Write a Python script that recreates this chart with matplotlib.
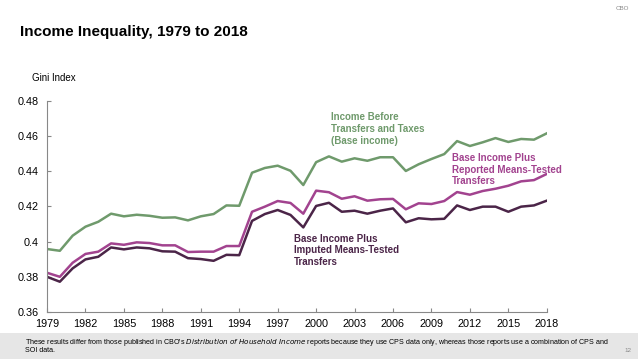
import matplotlib
matplotlib.use("Agg")
import matplotlib.pyplot as plt
import numpy as np

plt.rcParams["font.family"] = ["Liberation Sans", "DejaVu Sans"]

years = np.arange(1979, 2019)

# Gini index, income before transfers and taxes (base income)
base_income = [
    0.3958, 0.3948, 0.4034, 0.4085, 0.4113, 0.4159, 0.4144, 0.4153, 0.4147, 0.4136,
    0.4138, 0.4121, 0.4144, 0.4157, 0.4206, 0.4204, 0.4392, 0.4419, 0.4432, 0.4403,
    0.4322, 0.4452, 0.4485, 0.4455, 0.4474, 0.4460, 0.4480, 0.4480, 0.4402, 0.4440,
    0.4470, 0.4498, 0.4572, 0.4544, 0.4565, 0.4589, 0.4567, 0.4584, 0.4580, 0.4616,
]
# base income plus reported means-tested transfers
reported = [
    0.3823, 0.3800, 0.3880, 0.3930, 0.3943, 0.3990, 0.3982, 0.3996, 0.3992, 0.3979,
    0.3979, 0.3941, 0.3943, 0.3943, 0.3975, 0.3975, 0.4170, 0.4199, 0.4231, 0.4220,
    0.4159, 0.4290, 0.4281, 0.4244, 0.4258, 0.4233, 0.4241, 0.4243, 0.4184, 0.4218,
    0.4214, 0.4231, 0.4282, 0.4267, 0.4288, 0.4301, 0.4318, 0.4343, 0.4350, 0.4385,
]
# base income plus imputed means-tested transfers
imputed = [
    0.3800, 0.3772, 0.3848, 0.3899, 0.3914, 0.3967, 0.3956, 0.3967, 0.3962, 0.3945,
    0.3943, 0.3906, 0.3901, 0.3891, 0.3925, 0.3923, 0.4118, 0.4157, 0.4180, 0.4152,
    0.4081, 0.4203, 0.4221, 0.4170, 0.4176, 0.4159, 0.4176, 0.4189, 0.4110, 0.4133,
    0.4127, 0.4130, 0.4206, 0.4180, 0.4199, 0.4199, 0.4170, 0.4199, 0.4206, 0.4233,
]

xticks = list(range(1979, 2019, 3))
yticks = [0.36, 0.38, 0.40, 0.42, 0.44, 0.46, 0.48]
ytick_labels = ["0.36", "0.38", "0.4", "0.42", "0.44", "0.46", "0.48"]

GREEN = "#6f9a6c"
PINK = "#a2438f"
DARK = "#4b2548"

fig = plt.figure(figsize=(6.38, 3.59), dpi=100)
ax = fig.add_axes([0.0737, 0.131, 0.7833, 0.5877])

ax.plot(years, base_income, color=GREEN, lw=1.8)
ax.plot(years, reported, color=PINK, lw=1.8)
ax.plot(years, imputed, color=DARK, lw=1.8)

ax.set_xlim(1979, 2018)
ax.set_ylim(0.36, 0.48)
ax.set_xticks(xticks)
ax.set_xticklabels([str(y) for y in xticks], fontsize=7.8)
ax.set_yticks(yticks)
ax.set_yticklabels(ytick_labels, fontsize=7.8)
ax.tick_params(direction="in", length=3, width=0.8, color="#888")
ax.tick_params(axis="y", pad=6)
ax.tick_params(axis="x", pad=5)
for s in ["top", "right"]:
    ax.spines[s].set_visible(False)
for s in ["left", "bottom"]:
    ax.spines[s].set_color("#888")
    ax.spines[s].set_linewidth(0.8)

ax.text(2001.2, 0.4735, "Income Before\nTransfers and Taxes\n(Base income)",
        color=GREEN, fontsize=7, fontweight="bold", va="top", ha="left", linespacing=1.22)
ax.text(2010.6, 0.4505, "Base Income Plus\nReported Means-Tested\nTransfers",
        color=PINK, fontsize=7, fontweight="bold", va="top", ha="left", linespacing=1.22)
ax.text(1998.3, 0.4045, "Base Income Plus\nImputed Means-Tested\nTransfers",
        color=DARK, fontsize=7, fontweight="bold", va="top", ha="left", linespacing=1.22)

# header / footer
fig.text(20 / 638, 1 - 32 / 359, "Income Inequality, 1979 to 2018",
         fontsize=11, fontweight="bold", va="center", ha="left")
fig.text(32 / 638, 1 - 78 / 359, "Gini Index", fontsize=7, va="center", ha="left")
fig.text(629 / 638, 1 - 8 / 359, "CBO", fontsize=4.5, color="#888", va="center", ha="right")

fig.patches.append(plt.Rectangle((0, 0), 1, 26 / 359, transform=fig.transFigure,
                                 facecolor="#e6e6e6", edgecolor="none", zorder=0))
fig.text(25 / 638, 1 - 342 / 359,
         "These results differ from those published in CBO's $\\it{Distribution\\ of\\ Household\\ Income}$ "
         "reports because they use CPS data only, whereas those reports use a combination of CPS and",
         fontsize=5.1, va="center", ha="left")
fig.text(25 / 638, 1 - 350 / 359, "SOI data.", fontsize=5.1, va="center", ha="left")
fig.text(631 / 638, 1 - 350 / 359, "12", fontsize=4.5, color="#888", va="center", ha="right")

fig.savefig("out.png", dpi=100)
